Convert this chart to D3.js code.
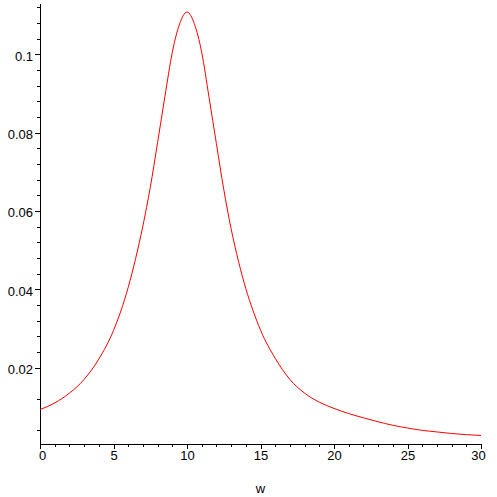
<!DOCTYPE html>
<html>
<head>
<meta charset="utf-8">
<script src="https://cdn.jsdelivr.net/npm/d3@7"></script>
<style>
    body { margin: 0; background: #fff; }
    svg text { font-family: "Liberation Sans", Arial, sans-serif; font-size: 13px; fill: #000; }
</style>
</head>
<body>
<div id="plot"></div>
<script>
(function () {
    // values
    var wValues = [0, 1, 2, 3, 4, 5, 6, 6.5, 7, 7.5, 8, 8.5, 9, 9.5, 10, 10.5, 11, 11.5, 12, 12.5,
        13, 13.5, 14, 14.5, 15, 16, 17, 18, 19, 20, 21, 22, 23, 24, 25, 26, 27, 28, 29, 30];
    var ampValues = [0.0093, 0.0110, 0.0135, 0.0170, 0.0222, 0.0295, 0.0405, 0.0478, 0.0562, 0.0660,
        0.0775, 0.0893, 0.1005, 0.1078, 0.1108, 0.1078, 0.1005, 0.0890, 0.0772, 0.0655,
        0.0555, 0.0472, 0.0402, 0.0345, 0.0296, 0.0224, 0.0170, 0.0135, 0.0112, 0.0096,
        0.0083, 0.0072, 0.0062, 0.0053, 0.0046, 0.0040, 0.0036, 0.0032, 0.0029, 0.0027];

    var xTicks = [0, 5, 10, 15, 20, 25, 30];
    var xMinorTicks = [1, 2, 3, 4, 6, 7, 8, 9, 11, 12, 13, 14, 16, 17, 18, 19, 21, 22, 23, 24, 26, 27, 28, 29];
    var yTicks = [0.02, 0.04, 0.06, 0.08, 0.1];
    var yMinorTicks = [0.004, 0.012, 0.024, 0.028, 0.032, 0.036, 0.044, 0.048, 0.052, 0.056,
        0.064, 0.068, 0.072, 0.076, 0.084, 0.088, 0.092, 0.096, 0.104, 0.108, 0.112];
    var xDomain = [0, 30];
    var yDomain = [0.00052, 0.11297];
    var xLabel = "w";

    var width = 497, height = 497;

    var svg = d3.select("#plot").append("svg")
        .attr("width", width)
        .attr("height", height);

    var x = d3.scaleLinear().domain(xDomain).range([40, 481]);
    var y = d3.scaleLinear().domain(yDomain).range([444, 3.5]);

    // x axis
    var xAxisG = svg.append("g")
        .attr("transform", "translate(0,444)")
        .call(d3.axisBottom(x).tickValues(xTicks).tickSize(5).tickSizeOuter(0).tickPadding(2)
            .tickFormat(d3.format("d")));
    svg.append("g")
        .attr("transform", "translate(0,444)")
        .call(d3.axisBottom(x).tickValues(xMinorTicks).tickSize(3).tickSizeOuter(0).tickFormat(""));

    xAxisG.selectAll(".tick text")
        .attr("dx", function (d, i) { return i === 0 ? 2 : (i === xTicks.length - 1 ? -3 : 0); });

    // y axis
    var yAxisG = svg.append("g")
        .attr("transform", "translate(40,0)")
        .call(d3.axisLeft(y).tickValues(yTicks).tickSize(5).tickSizeOuter(0).tickPadding(2)
            .tickFormat(function (d) { return d3.format("")(+d.toFixed(2)); }));
    svg.append("g")
        .attr("transform", "translate(40,0)")
        .call(d3.axisLeft(y).tickValues(yMinorTicks).tickSize(3).tickSizeOuter(0).tickFormat(""));

    yAxisG.selectAll(".tick text").attr("dy", "0.45em");

    svg.selectAll(".domain, .tick line")
        .attr("stroke", "#000")
        .attr("shape-rendering", "crispEdges");
    svg.selectAll(".tick text")
        .style("font-family", "'Liberation Sans', Arial, sans-serif")
        .style("font-size", "13px")
        .attr("fill", "#000");

    // axis title
    svg.append("text")
        .attr("x", (x.range()[0] + x.range()[1]) / 2)
        .attr("y", 493)
        .attr("text-anchor", "middle")
        .text(xLabel);

    // curve
    var points = wValues.map(function (w, i) { return [w, ampValues[i]]; });
    var line = d3.line()
        .x(function (d) { return x(d[0]); })
        .y(function (d) { return y(d[1]); })
        .curve(d3.curveMonotoneX);

    svg.append("path")
        .datum(points)
        .attr("d", line)
        .attr("fill", "none")
        .attr("stroke", "#ff0000")
        .attr("stroke-width", 1);
})();
</script>
</body>
</html>
